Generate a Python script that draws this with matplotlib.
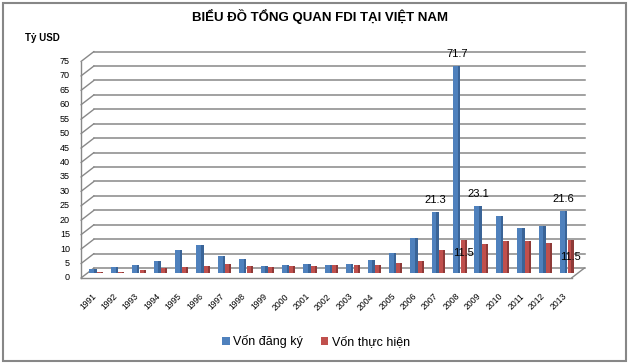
import matplotlib
matplotlib.use("Agg")
import matplotlib.pyplot as plt
import numpy as np
from matplotlib.patches import Rectangle
from matplotlib.transforms import offset_copy

# data (billion USD)
years = [str(y) for y in range(1991, 2014)]
registered = [1.3, 2.1, 2.8, 4.3, 7.9, 9.6, 5.8, 4.9, 2.3, 2.8, 3.1, 2.9, 3.1,
              4.5, 6.8, 12.0, 21.3, 71.7, 23.1, 19.9, 15.5, 16.3, 21.6]
realized = [0.3, 0.4, 1.0, 1.7, 2.2, 2.4, 3.1, 2.4, 2.2, 2.4, 2.5, 2.6, 2.7,
            2.9, 3.3, 4.1, 8.0, 11.5, 10.0, 11.0, 11.0, 10.5, 11.5]
y_ticks = list(range(0, 80, 5))
labelled_registered = ["2007", "2008", "2009", "2013"]
labelled_realized = ["2008", "2013"]

title = "BIỂU ĐỒ TỔNG QUAN FDI TẠI VIỆT NAM"
unit = "Tỷ USD"
series_names = ["Vốn đăng ký", "Vốn thực hiện"]

BLUE, BLUE_DARK = "#4F81BD", "#3A6497"
RED, RED_DARK = "#C0504D", "#8E3A38"
GRID = "#888888"

plt.rcParams["font.family"] = ["Liberation Sans", "DejaVu Sans"]

fig = plt.figure(figsize=(6.29, 3.64), dpi=100)
W, H = 629, 364

# mid-depth plane of the 3D box
x0, x1 = -0.43, 22.5
ax = fig.add_axes([87.5 / W, (H - 273) / H, (578 - 87.5) / W, (273 - 56.5) / H])
ax.set_xlim(x0, x1)
ax.set_ylim(0, 75)
ax.axis("off")

DX, DY = 6.5, 5  # half depth in pixels
back = offset_copy(ax.transData, fig, x=DX, y=DY, units="dots")
front = offset_copy(ax.transData, fig, x=-DX, y=-DY, units="dots")

# back wall gridlines + diagonals across side wall
for v in y_ticks:
    ax.plot([x0, x1], [v, v], color=GRID, lw=1.1, transform=back, clip_on=False, zorder=1)
    ax.annotate("", xy=(x0, v), xycoords=back, xytext=(-2 * DX, -2 * DY),
                textcoords="offset pixels",
                arrowprops=dict(arrowstyle="-", color=GRID, lw=1.0, shrinkA=0, shrinkB=0),
                zorder=1)
# front edges
ax.plot([x0, x0], [0, 75], color=GRID, lw=1.0, transform=front, clip_on=False, zorder=1)
ax.plot([x0, x1], [0, 0], color=GRID, lw=1.0, transform=front, clip_on=False, zorder=1)
ax.annotate("", xy=(x1, 0), xycoords=back, xytext=(-2 * DX, -2 * DY),
            textcoords="offset pixels",
            arrowprops=dict(arrowstyle="-", color=GRID, lw=1.0, shrinkA=0, shrinkB=0))

# bars
x = np.arange(len(years))
wb, wr = 0.34, 0.28
xb, xr = x - 0.17, x + 0.15
bars_b = ax.bar(xb, registered, width=wb, color=BLUE, zorder=3, clip_on=False)
ax.bar(xb + wb * 0.33, registered, width=wb * 0.34, color=BLUE_DARK, zorder=3, clip_on=False)
bars_r = ax.bar(xr, realized, width=wr, color=RED, zorder=3, clip_on=False)
ax.bar(xr + wr * 0.33, realized, width=wr * 0.34, color=RED_DARK, zorder=3, clip_on=False)

# y tick labels at front plane
ylab = offset_copy(ax.transData, fig, x=-DX - 11, y=-DY, units="dots")
for v in y_ticks:
    ax.text(x0, v, str(v), transform=ylab, ha="right", va="center", fontsize=6.5)

# year labels
for i, yr in enumerate(years):
    ax.annotate(yr, xy=(i, 0), xytext=(-2, -22), textcoords="offset pixels",
                rotation=45, rotation_mode="anchor", ha="right", va="center",
                fontsize=6.2)

# value labels
for yr in labelled_registered:
    i = years.index(yr)
    ax.annotate(f"{registered[i]:.1f}", xy=(xb[i], registered[i]), xytext=(0, 12),
                textcoords="offset pixels", ha="center", va="center", fontsize=8, zorder=5)
red_offsets = {"2008": -13, "2013": -17}
for yr in labelled_realized:
    i = years.index(yr)
    ax.annotate(f"{realized[i]:.1f}", xy=(xr[i], realized[i]), xytext=(0, red_offsets[yr]),
                textcoords="offset pixels", ha="center", va="center", fontsize=8, zorder=5)

# titles
fig.text(320 / W, 1 - 16 / H, title, ha="center", va="center", fontsize=9.5,
         fontweight="bold", family=["Liberation Sans Narrow", "Liberation Sans", "DejaVu Sans"])
fig.text(25 / W, 1 - 38 / H, unit, ha="left", va="center", fontsize=7, fontweight="bold")

fig.legend([bars_b, bars_r], series_names, loc="center", bbox_to_anchor=(316 / W, 1 - 342 / H),
           ncol=2, frameon=False, fontsize=9, handlelength=0.6, handleheight=0.6,
           handletextpad=0.3, columnspacing=1.4)

# outer chart border
fig.patches.append(Rectangle((3 / W, 3 / H), 623 / W, 358 / H, transform=fig.transFigure,
                             fill=False, edgecolor="#878787", lw=1.5))

fig.savefig("out.png", dpi=100)
